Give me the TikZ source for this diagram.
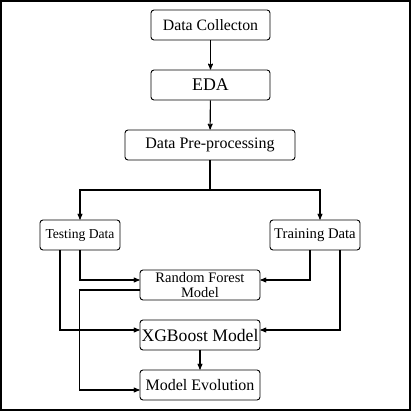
\documentclass[tikz,border=0pt]{standalone}
\usepackage{fontspec}
\setmainfont{Liberation Serif}
\usepackage{xcolor}
\usetikzlibrary{arrows}

\begin{document}
\begin{tikzpicture}[x=1pt,y=-1pt]
\tikzset{box/.style={draw,rounded corners=3pt,line width=0.9pt,inner sep=0pt,align=center,minimum height=30pt}}
\tikzset{flow/.style={->,>=stealth',line width=1.1pt}}
\tikzset{plain/.style={line width=1.1pt}}

\useasboundingbox (0,0) rectangle (411,411);
\draw[line width=1.6pt] (1,1) rectangle (410,410);

\node[box,minimum width=119pt,font=\fontsize{15.8}{18}\selectfont] (collect) at (210.5,25) {Data Collecton};
\node[box,minimum width=119pt,font=\fontsize{17.8}{20}\selectfont] (eda) at (210.5,85) {EDA};
\node[box,minimum width=170pt,font=\fontsize{16}{18}\selectfont] (prep) at (210,145) {Data Pre-processing};
\node[box,minimum width=80pt,font=\fontsize{13.6}{16}\selectfont] (test) at (80,235) {Testing Data};
\node[box,minimum width=90pt,font=\fontsize{14.7}{17}\selectfont] (train) at (315,235) {Training Data};
\node[box,minimum width=120pt,font=\fontsize{14.5}{15.5}\selectfont] (forest) at (200,285) {Random Forest\\Model};
\node[box,minimum width=120pt,font=\fontsize{17.6}{20}\selectfont] (xgb) at (200,335) {XGBoost Model};
\node[box,minimum width=120pt,font=\fontsize{16}{18}\selectfont] (evol) at (200,385) {Model Evolution};

\coordinate (split) at (210,190);

\draw[flow] (collect) -- (eda);
\draw[flow] (eda) -- (prep);
\draw[plain] (prep) -- (split);
\draw[flow] (split) -| (test);
\draw[flow] (split) -| ([xshift=5pt]train.north);

\draw[flow] (test.south) |- ([yshift=5pt]forest.west);
\draw[flow] ([xshift=-20pt]test.south) |- ([yshift=5pt]xgb.west);
\draw[flow] ([xshift=-5pt]train.south) |- ([yshift=5pt]forest.east);
\draw[flow] ([xshift=25pt]train.south) |- ([yshift=5pt]xgb.east);
\draw[flow] ([yshift=-5pt]forest.west) -- ++(-60,0) |- ([yshift=-5pt]evol.west);
\draw[flow] (xgb) -- (evol);

\end{tikzpicture}
\end{document}
